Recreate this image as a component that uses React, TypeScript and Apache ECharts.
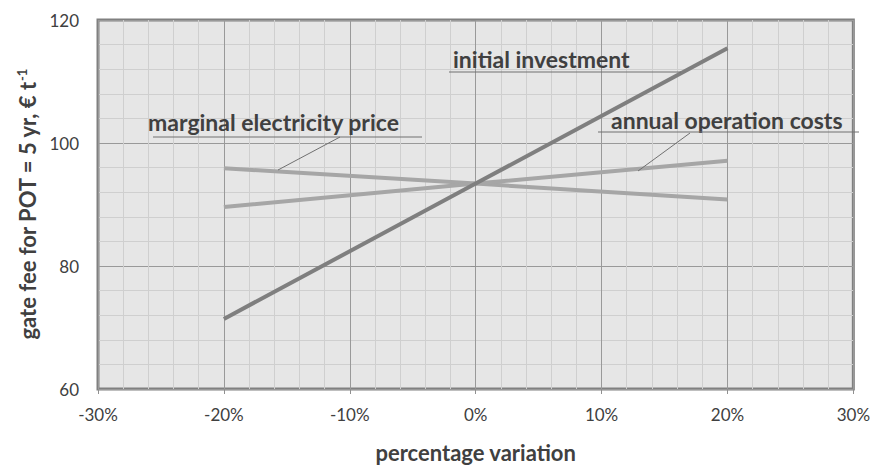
import React, { useEffect, useRef } from "react";
import * as echarts from "echarts";

const xValues = [-20, 0, 20];
const initialInvestment = [71.4, 93.4, 115.4];
const marginalElectricityPrice = [95.9, 93.4, 90.8];
const annualOperationCosts = [89.6, 93.4, 97.1];
const seriesNames = ["initial investment", "marginal electricity price", "annual operation costs"];

const FONT = "Lato";

export default function App() {
  const ref = useRef<HTMLDivElement>(null);
  useEffect(() => {
    document.body.style.margin = "0";
    document.body.style.overflow = "hidden";
    document.documentElement.style.overflow = "hidden";
    const chart = echarts.init(ref.current!, null, { renderer: "svg" });
    const pair = (ys: number[]) => xValues.map((x, i) => [x, ys[i]]);
    const annColor = "#404040";
    chart.setOption({
      animation: false,
      grid: {
        left: 98, top: 20, right: 19, bottom: 77,
        show: true, backgroundColor: "#e6e6e6", borderColor: "#808080", borderWidth: 3,
      },
      xAxis: {
        type: "value", min: -30, max: 30, interval: 10,
        axisLine: { show: false },
        axisTick: { show: true, length: 5, lineStyle: { color: "#909090" } },
        axisLabel: { formatter: (v: number) => `${v}%`, color: "#404040", fontFamily: FONT, fontSize: 17, margin: 17 },
        splitLine: { show: true, lineStyle: { color: "#999999", width: 1 } },
        minorTick: { show: false, splitNumber: 5 },
        minorSplitLine: { show: true, lineStyle: { color: "#cfcfcf", width: 1 } },
        name: "percentage variation", nameLocation: "middle", nameGap: 52,
        nameTextStyle: { fontFamily: FONT, fontWeight: "bold", fontSize: 22, color: "#404040" },
      },
      yAxis: {
        type: "value", min: 60, max: 120, interval: 20,
        axisLine: { show: false },
        axisTick: { show: true, length: 5, lineStyle: { color: "#909090" } },
        axisLabel: { color: "#404040", fontFamily: FONT, fontSize: 17, margin: 19 },
        splitLine: { show: true, lineStyle: { color: "#999999", width: 1 } },
        minorTick: { show: false, splitNumber: 5 },
        minorSplitLine: { show: true, lineStyle: { color: "#cfcfcf", width: 1 } },
        name: "{a|gate fee for POT = 5 yr, € t}{b|-1}", nameLocation: "middle", nameGap: 57,
        nameTextStyle: {
          fontFamily: FONT, fontWeight: "bold", fontSize: 22, color: "#404040",
          rich: {
            a: { fontFamily: FONT, fontWeight: "bold", fontSize: 22, color: "#404040" },
            b: { fontFamily: FONT, fontWeight: "bold", fontSize: 13, color: "#404040", verticalAlign: "top", padding: [0, 0, 11, 0] },
          },
        },
      },
      series: [
        { name: seriesNames[0], type: "line", data: pair(initialInvestment), showSymbol: false, lineStyle: { color: "#7f7f7f", width: 4 }, z: 5 },
        { name: seriesNames[1], type: "line", data: pair(marginalElectricityPrice), showSymbol: false, lineStyle: { color: "#a6a6a6", width: 4 }, z: 4 },
        { name: seriesNames[2], type: "line", data: pair(annualOperationCosts), showSymbol: false, lineStyle: { color: "#a6a6a6", width: 4 }, z: 4 },
      ],
      graphic: [
        { type: "text", x: 453, y: 59, style: { text: seriesNames[0], fill: annColor, font: `bold 23px ${FONT}`, textVerticalAlign: "middle" }, z: 10 },
        { type: "line", shape: { x1: 449, y1: 72, x2: 681, y2: 72 }, style: { stroke: "#707070", lineWidth: 1 }, z: 10 },
        { type: "text", x: 148, y: 122, style: { text: seriesNames[1], fill: annColor, font: `bold 23px ${FONT}`, textVerticalAlign: "middle" }, z: 10 },
        { type: "line", shape: { x1: 153, y1: 137, x2: 422, y2: 137 }, style: { stroke: "#707070", lineWidth: 1 }, z: 10 },
        { type: "line", shape: { x1: 340, y1: 137, x2: 278, y2: 170 }, style: { stroke: "#707070", lineWidth: 1 }, z: 10 },
        { type: "text", x: 611, y: 120, style: { text: seriesNames[2], fill: annColor, font: `bold 23px ${FONT}`, textVerticalAlign: "middle" }, z: 10 },
        { type: "line", shape: { x1: 598, y1: 132, x2: 859, y2: 132 }, style: { stroke: "#707070", lineWidth: 1 }, z: 10 },
        { type: "line", shape: { x1: 690, y1: 133, x2: 638, y2: 171 }, style: { stroke: "#707070", lineWidth: 1 }, z: 10 },
      ],
    });
    return () => chart.dispose();
  }, []);
  return <div ref={ref} style={{ position: "fixed", left: 0, top: 0, width: 873, height: 468, background: "#fff" }} />;
}
